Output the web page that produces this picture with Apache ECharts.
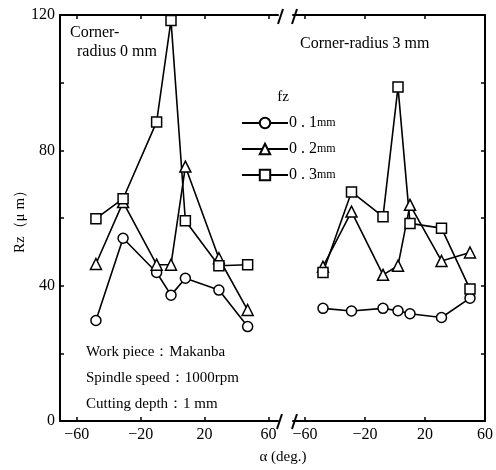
<!DOCTYPE html>
<html>
<head>
<meta charset="utf-8">
<script src="https://cdn.jsdelivr.net/npm/echarts@6/dist/echarts.min.js"></script>
<style>
html,body{margin:0;padding:0;background:#fff;}
#chart{width:496px;height:470px;}
</style>
</head>
<body>
<div id="chart"></div>
<script>
// 角度（左：コーナー半径0mm，右：3mm）
var angleL = [-48, -31, -10, -1, 8, 29, 47];
var angleR = [-48, -29, -8, 2, 10, 31, 50];
// Rz 値 (μm)
var rz01L = [29.7, 54, 43.9, 37.2, 42.2, 38.7, 27.9];
var rz02L = [46.4, 64.7, 46.2, 46.2, 75.2, 48.1, 32.8];
var rz03L = [59.8, 65.7, 88.4, 118.4, 59.2, 45.9, 46.2];
var rz01R = [33.3, 32.5, 33.3, 32.6, 31.7, 30.6, 36.3];
var rz02R = [45.6, 61.9, 43.2, 45.9, 63.9, 47.3, 49.8];
var rz03R = [43.9, 67.7, 60.4, 98.7, 58.4, 57, 39];
var fzNames = ['0.1mm', '0.2mm', '0.3mm'];
var fzSymbols = ['circle', 'triangle', 'rect'];
var xTicks = [-60, -20, 20, 60];

var serif = 'Liberation Serif, DejaVu Serif, serif';
var mycharts = echarts.init(document.getElementById('chart'));

function pairs(xs, ys) {
  return xs.map(function (x, i) { return [x, ys[i]]; });
}

function mkSeries(idx, grid, ys, xs) {
  return {
    name: fzNames[idx],
    type: 'line',
    xAxisIndex: grid * 2,
    yAxisIndex: grid,
    data: pairs(xs, ys),
    symbol: fzSymbols[idx],
    symbolSize: idx === 1 ? 11 : 10,
    lineStyle: { color: '#000', width: 1.6 },
    itemStyle: { color: '#fff', borderColor: '#000', borderWidth: 1.5 },
    z: 3
  };
}

function xAx(grid, min, max, pos, showLabel) {
  return {
    type: 'value', gridIndex: grid, position: pos, min: min, max: max,
    splitLine: { show: false },
    axisLine: { show: true, onZero: false, lineStyle: { color: '#000', width: 2 } },
    axisTick: { show: true, inside: true, length: 4, customValues: xTicks, lineStyle: { color: '#000', width: 1.5 } },
    axisLabel: {
      show: showLabel, customValues: xTicks, color: '#000', fontFamily: serif, fontSize: 16, margin: 6,
      formatter: function (v) { return String(v).replace('-', '−'); }
    }
  };
}

function yAx(grid, pos, showLabel) {
  return {
    type: 'value', gridIndex: grid, position: pos, min: 0, max: 120, interval: 20,
    splitLine: { show: false },
    axisLine: { show: true, onZero: false, lineStyle: { color: '#000', width: 2 } },
    axisTick: { show: true, inside: true, length: 4, lineStyle: { color: '#000', width: 1.5 } },
    axisLabel: {
      show: showLabel, color: '#000', fontFamily: serif, fontSize: 16, margin: 5,
      formatter: function (v) { return v % 40 === 0 ? v : ''; }
    },
    name: showLabel ? 'Rz（μ m）' : '',
    nameLocation: 'middle', nameRotate: 90, nameGap: 31,
    nameTextStyle: { color: '#000', fontFamily: serif, fontSize: 15 }
  };
}

function brk(x, y) {
  return { type: 'line', shape: { x1: x + 3, y1: y - 8, x2: x - 2, y2: y + 7 }, style: { stroke: '#000', lineWidth: 2 }, z: 10 };
}

function txt(x, y, s, size, align) {
  return {
    type: 'text', x: x, y: y, z: 10,
    style: { text: s, fill: '#000', font: size + 'px ' + serif, textAlign: align || 'left', textVerticalAlign: 'middle' }
  };
}

var options = {
  animation: false,
  backgroundColor: '#fff',
  grid: [
    { left: 60, top: 15, width: 218, height: 406 },
    { left: 293, top: 15, width: 199, height: 406 }
  ],
  xAxis: [
    xAx(0, -70.5, 66, 'bottom', true),
    xAx(0, -70.5, 66, 'top', false),
    xAx(1, -68, 60, 'bottom', true),
    xAx(1, -68, 60, 'top', false)
  ],
  yAxis: [
    yAx(0, 'left', true),
    yAx(1, 'right', false)
  ],
  legend: {
    orient: 'vertical', left: 236, top: 110, itemWidth: 46, itemHeight: 13, itemGap: 10,
    data: fzNames,
    textStyle: { color: '#000', fontFamily: serif, fontSize: 16, padding: [0, 0, 0, -4] },
    formatter: function (n) { return n.replace('.', ' . ').replace('mm', '') + '{s|mm}'; }
  },
  series: [
    mkSeries(0, 0, rz01L, angleL),
    mkSeries(1, 0, rz02L, angleL),
    mkSeries(2, 0, rz03L, angleL),
    mkSeries(0, 1, rz01R, angleR),
    mkSeries(1, 1, rz02R, angleR),
    mkSeries(2, 1, rz03R, angleR)
  ],
  graphic: [
    brk(280, 17), brk(294, 17), brk(279, 422), brk(294, 422),
    txt(70, 33, 'Corner-', 16),
    txt(77, 52, 'radius 0 mm', 16),
    txt(300, 44, 'Corner-radius 3 mm', 16),
    txt(283, 97, 'fz', 15, 'center'),
    txt(86, 352, 'Work piece：Makanba', 15),
    txt(86, 378, 'Spindle speed：1000rpm', 15),
    txt(86, 404, 'Cutting depth：1 mm', 15),
    txt(283, 457, 'α (deg.)', 15, 'center')
  ]
};
options.legend.textStyle.rich = { s: { fontFamily: serif, fontSize: 12, color: '#000' } };
mycharts.setOption(options, true);
window.addEventListener('resize', function () { mycharts.resize(); });
</script>
</body>
</html>
